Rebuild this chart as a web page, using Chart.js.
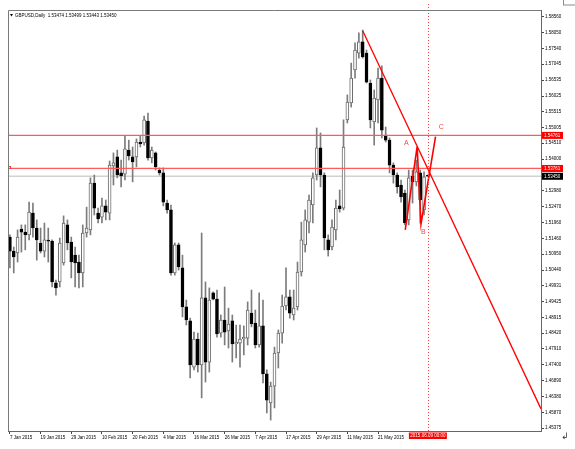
<!DOCTYPE html>
<html lang="en">
<head>
<meta charset="UTF-8">
<title>GBPUSD,Daily</title>
<script src="https://cdn.jsdelivr.net/npm/chart.js"></script>
<style>
    body { margin: 0; background: #fff; }
    .chart-box { width: 575px; height: 449px; position: relative; }
</style>
</head>
<body>
<div class="chart-box"><canvas id="priceChart"></canvas></div>
<script>
// GBPUSD daily candles, 7 Jan 2015 .. 9 Jun 2015
const opens = [
    1.5150, 1.5105, 1.5099, 1.5176, 1.5166, 1.5157, 1.5227, 1.5179, 1.5131, 1.5105,
    1.5140, 1.5137, 1.5003, 1.5006, 1.5067, 1.5189, 1.5134, 1.5092, 1.5070, 1.5035,
    1.5163, 1.5173, 1.5323, 1.5227, 1.5214, 1.5250, 1.5227, 1.5378, 1.5407, 1.5356,
    1.5352, 1.5429, 1.5407, 1.5407, 1.5455, 1.5452, 1.5522, 1.5404, 1.5420, 1.5365,
    1.5356, 1.5259, 1.5237, 1.5035, 1.5125, 1.5051, 1.4926, 1.4881, 1.4733, 1.4823,
    1.4740, 1.4955, 1.4749, 1.4971, 1.4951, 1.4842, 1.4884, 1.4849, 1.4881, 1.4807,
    1.4810, 1.4823, 1.4826, 1.4906, 1.4874, 1.4804, 1.4865, 1.4711, 1.4618, 1.4672,
    1.4778, 1.4842, 1.4929, 1.4958, 1.4900, 1.4926, 1.5038, 1.5125, 1.5198, 1.5253,
    1.5349, 1.5436, 1.5349, 1.5141, 1.5118, 1.5173, 1.5250, 1.5243, 1.5526, 1.5580,
    1.5686, 1.5740, 1.5776, 1.5740, 1.5644, 1.5519, 1.5590, 1.5660, 1.5477, 1.5461,
    1.5381, 1.5349, 1.5317, 1.5291, 1.5205, 1.5346, 1.5327, 1.5356, 1.5237, 1.53474
];
const highs = [
    1.5157, 1.5118, 1.5173, 1.5189, 1.5189, 1.5262, 1.5259, 1.5205, 1.5179, 1.5195,
    1.5179, 1.5141, 1.5012, 1.5147, 1.5218, 1.5205, 1.5150, 1.5118, 1.5092, 1.5189,
    1.5246, 1.5340, 1.5349, 1.5243, 1.5275, 1.5269, 1.5394, 1.5420, 1.5429, 1.5397,
    1.5474, 1.5461, 1.5439, 1.5465, 1.5474, 1.5538, 1.5548, 1.5439, 1.5423, 1.5372,
    1.5372, 1.5269, 1.5253, 1.5131, 1.5131, 1.5092, 1.4948, 1.4890, 1.4845, 1.4842,
    1.5163, 1.5006, 1.4987, 1.4974, 1.4980, 1.4900, 1.4990, 1.4922, 1.4900, 1.4868,
    1.4868, 1.4865, 1.4942, 1.4980, 1.4916, 1.4971, 1.4948, 1.4724, 1.4685, 1.4797,
    1.4852, 1.4964, 1.5051, 1.4980, 1.4980, 1.5070, 1.5198, 1.5237, 1.5285, 1.5356,
    1.5500, 1.5484, 1.5356, 1.5157, 1.5205, 1.5269, 1.5301, 1.5526, 1.5606, 1.5708,
    1.5773, 1.5805, 1.5814, 1.5750, 1.5654, 1.5622, 1.5692, 1.5699, 1.5503, 1.5468,
    1.5388, 1.5356, 1.5333, 1.5301, 1.5365, 1.5365, 1.5397, 1.5365, 1.5359, 1.53499
];
const lows = [
    1.5051, 1.5035, 1.5070, 1.5102, 1.5109, 1.5141, 1.5150, 1.5076, 1.5099, 1.5086,
    1.5070, 1.4990, 1.4964, 1.4990, 1.5060, 1.5109, 1.5019, 1.4990, 1.4987, 1.4990,
    1.5150, 1.5157, 1.5221, 1.5195, 1.5195, 1.5205, 1.5205, 1.5317, 1.5340, 1.5311,
    1.5333, 1.5397, 1.5327, 1.5375, 1.5439, 1.5445, 1.5397, 1.5388, 1.5365, 1.5349,
    1.5250, 1.5227, 1.5028, 1.5028, 1.5044, 1.4894, 1.4868, 1.4698, 1.4724, 1.4717,
    1.4634, 1.4685, 1.4717, 1.4948, 1.4829, 1.4829, 1.4804, 1.4794, 1.4749, 1.4762,
    1.4733, 1.4772, 1.4804, 1.4862, 1.4794, 1.4797, 1.4682, 1.4586, 1.4563, 1.4602,
    1.4730, 1.4810, 1.4916, 1.4890, 1.4884, 1.4916, 1.5025, 1.5102, 1.5163, 1.5195,
    1.5333, 1.5311, 1.5109, 1.5089, 1.5109, 1.5141, 1.5230, 1.5237, 1.5516, 1.5567,
    1.5660, 1.5724, 1.5724, 1.5644, 1.5500, 1.5445, 1.5516, 1.5468, 1.5455, 1.5356,
    1.5323, 1.5291, 1.5262, 1.5189, 1.5189, 1.5259, 1.5314, 1.5195, 1.5221, 1.53443
];
const closes = [
    1.5105, 1.5086, 1.5150, 1.5166, 1.5157, 1.5230, 1.5179, 1.5141, 1.5105, 1.5141,
    1.5137, 1.5006, 1.4987, 1.5131, 1.5195, 1.5131, 1.5070, 1.5067, 1.5035, 1.5163,
    1.5179, 1.5323, 1.5243, 1.5208, 1.5250, 1.5230, 1.5381, 1.5388, 1.5349, 1.5346,
    1.5433, 1.5410, 1.5391, 1.5455, 1.5449, 1.5526, 1.5404, 1.5429, 1.5375, 1.5356,
    1.5262, 1.5237, 1.5035, 1.5125, 1.5054, 1.4926, 1.4884, 1.4740, 1.4823, 1.4740,
    1.4955, 1.4749, 1.4948, 1.4951, 1.4839, 1.4884, 1.4845, 1.4871, 1.4807, 1.4813,
    1.4823, 1.4829, 1.4916, 1.4871, 1.4804, 1.4865, 1.4711, 1.4627, 1.4672, 1.4778,
    1.4842, 1.4929, 1.4958, 1.4906, 1.4922, 1.5038, 1.5141, 1.5205, 1.5269, 1.5340,
    1.5436, 1.5349, 1.5147, 1.5109, 1.5182, 1.5243, 1.5240, 1.5439, 1.5583, 1.5660,
    1.5750, 1.5776, 1.5728, 1.5647, 1.5526, 1.5596, 1.5660, 1.5493, 1.5461, 1.5381,
    1.5349, 1.5311, 1.5279, 1.5195, 1.5340, 1.5327, 1.5359, 1.5269, 1.5343, 1.53450
];

// price axis labels as printed by the terminal
const yTickValues = [
    1.58560, 1.58050, 1.57540, 1.57045, 1.56535, 1.56025, 1.55515, 1.55005, 1.54510, 1.54000,
    1.52980, 1.52470, 1.51960, 1.51460, 1.50950, 1.50440, 1.49931, 1.49425, 1.48915, 1.48420,
    1.47910, 1.47400, 1.46890, 1.46380, 1.45870, 1.45375
];
const yMin = 1.45279, yMax = 1.58784;

// date axis: one label every 8 bars, last one hidden by the cursor box
const dateTickIdx = [0, 8, 16, 24, 32, 40, 48, 56, 64, 72, 80, 88, 96];
const totalBars = 139; // includes empty space to the right (chart shift)

// objects drawn on the chart
const levels = [1.54761, 1.53701];
const bidPrice = 1.53450;
const trendFrom = [92, 1.5812];
const trendTo = [138, 1.4612];
const zigzag = [[103.1, 1.5173], [106.2, 1.5440], [107.2, 1.5192], [111.0, 1.5472]];
const waveLabels = [['A', 103.4, 1.5452], ['B', 107.8, 1.5166], ['C', 112.5, 1.5503]];
const cursorBar = 109;
const cursorText = '2015.06.09 00:00';
const priceBoxes = [[1.54761, '1.54761', '#ff0000'], [1.53701, '1.53761', '#ff0000'], [1.53450, '1.53450', '#000000']];
const headerText = 'GBPUSD,Daily  1.53474 1.53499 1.53443 1.53450';

// build trading-day labels
const months = ['Jan', 'Feb', 'Mar', 'Apr', 'May', 'Jun', 'Jul', 'Aug', 'Sep', 'Oct', 'Nov', 'Dec'];
const dates = [];
const d = new Date(Date.UTC(2015, 0, 7));
while (dates.length < totalBars) {
    const wd = d.getUTCDay();
    if (wd !== 0 && wd !== 6) dates.push(d.getUTCDate() + ' ' + months[d.getUTCMonth()] + ' ' + d.getUTCFullYear());
    d.setUTCDate(d.getUTCDate() + 1);
}

const bull = opens.map((o, i) => closes[i] >= o);
const bodyFill = bull.map(b => b ? '#ffffff' : '#000000');
const bodyEdge = bull.map(b => b ? '#6a6a6a' : '#000000');
const FONT = '"Liberation Sans", Arial, sans-serif';

const overlay = {
    id: 'overlay',
    beforeDatasetsDraw(chart) {
        const { ctx, chartArea: a, scales: { y } } = chart;
        const by = y.getPixelForValue(bidPrice);
        ctx.save();
        ctx.strokeStyle = '#d2d2d2';
        ctx.lineWidth = 1.5;
        ctx.beginPath(); ctx.moveTo(a.left, by); ctx.lineTo(a.right, by); ctx.stroke();
        ctx.restore();
    },
    afterDatasetsDraw(chart) {
        const { ctx, chartArea: a, scales: { x, y } } = chart;
        ctx.save();
        ctx.beginPath(); ctx.rect(a.left, a.top, a.right - a.left, a.bottom - a.top); ctx.clip();

        // horizontal levels
        levels.forEach(p => {
            const py = y.getPixelForValue(p);
            ctx.strokeStyle = '#ff5a5a';
            ctx.lineWidth = 1.2;
            ctx.beginPath(); ctx.moveTo(a.left, py); ctx.lineTo(a.right, py); ctx.stroke();
        });

        // trend line as a ray
        const x1 = x.getPixelForValue(trendFrom[0]), y1 = y.getPixelForValue(trendFrom[1]);
        const x2 = x.getPixelForValue(trendTo[0]), y2 = y.getPixelForValue(trendTo[1]);
        const k = (y2 - y1) / (x2 - x1);
        ctx.strokeStyle = '#ff0000';
        ctx.lineWidth = 1.3;
        ctx.beginPath(); ctx.moveTo(x1, y1); ctx.lineTo(a.right, y1 + k * (a.right - x1)); ctx.stroke();

        // zigzag
        ctx.lineWidth = 1.6;
        ctx.beginPath();
        zigzag.forEach(([i, p], n) => {
            const px = x.getPixelForValue(i), py = y.getPixelForValue(p);
            if (n) ctx.lineTo(px, py); else ctx.moveTo(px, py);
        });
        ctx.stroke();

        ctx.fillStyle = '#f04848';
        ctx.font = '7px ' + FONT;
        ctx.textAlign = 'center';
        ctx.textBaseline = 'middle';
        waveLabels.forEach(([t, i, p]) => ctx.fillText(t, x.getPixelForValue(i), y.getPixelForValue(p)));
        ctx.restore();

        // vertical cursor line
        const xv = Math.round(x.getPixelForValue(cursorBar)) + 0.5;
        ctx.save();
        ctx.strokeStyle = '#ff4040';
        ctx.lineWidth = 1;
        ctx.setLineDash([1, 2]);
        ctx.beginPath(); ctx.moveTo(xv, 4); ctx.lineTo(xv, a.bottom); ctx.stroke();
        ctx.restore();

        // small anchor square on the lower level
        ctx.save();
        ctx.strokeStyle = '#ff4040';
        ctx.lineWidth = 1;
        ctx.strokeRect(a.left + 0.5, Math.round(y.getPixelForValue(levels[1])) - 1.5, 2, 2);
        ctx.restore();
    },
    afterDraw(chart) {
        const { ctx, chartArea: a, scales: { x, y } } = chart;
        ctx.save();
        // frame top / left
        ctx.strokeStyle = '#7a7a7a';
        ctx.lineWidth = 1;
        ctx.beginPath();
        ctx.moveTo(a.left + 0.5, a.bottom); ctx.lineTo(a.left + 0.5, a.top + 0.5); ctx.lineTo(a.right, a.top + 0.5);
        ctx.stroke();

        // price boxes on the axis
        ctx.font = '4.5px ' + FONT;
        ctx.textBaseline = 'middle';
        ctx.textAlign = 'left';
        priceBoxes.forEach(([p, t, c]) => {
            const py = y.getPixelForValue(p);
            ctx.fillStyle = c;
            ctx.fillRect(a.right + 1, py - 3.5, 21, 7);
            ctx.fillStyle = '#ffffff';
            ctx.fillText(t, a.right + 3, py);
        });

        // date box under the cursor
        const xv = x.getPixelForValue(cursorBar);
        ctx.fillStyle = '#ff0000';
        ctx.fillRect(xv - 19, a.bottom + 1.5, 38, 6.5);
        ctx.fillStyle = '#ffffff';
        ctx.textAlign = 'center';
        ctx.fillText(cursorText, xv, a.bottom + 5);

        // header
        ctx.fillStyle = '#000000';
        ctx.textAlign = 'left';
        ctx.fillText(headerText, 15, 15.5);
        ctx.beginPath(); ctx.moveTo(10, 14); ctx.lineTo(13, 14); ctx.lineTo(11.5, 16.5); ctx.closePath(); ctx.fill();

        // window bits
        ctx.strokeStyle = '#8a8a8a';
        ctx.strokeRect(563.5, -1, 13, 6);
        ctx.fillStyle = '#333333';
        ctx.font = '9px "DejaVu Sans"';
        ctx.fillText('\u21B2', 561, 437);
        ctx.restore();
    }
};

new Chart(document.getElementById('priceChart'), {
    type: 'bar',
    data: {
        labels: dates,
        datasets: [
            {
                label: 'body',
                data: opens.map((o, i) => [o, closes[i]]),
                backgroundColor: bodyFill,
                borderColor: bodyEdge,
                borderWidth: 1,
                borderSkipped: false,
                barThickness: 3,
                minBarLength: 1,
                grouped: false,
                order: 1
            },
            {
                label: 'wick',
                data: lows.map((l, i) => [l, highs[i]]),
                backgroundColor: '#7c7c7c',
                barThickness: 1,
                grouped: false,
                order: 2
            }
        ]
    },
    options: {
        responsive: true,
        maintainAspectRatio: false,
        animation: false,
        devicePixelRatio: 1,
        layout: { padding: { left: 8, top: 10, right: 0, bottom: 0 } },
        plugins: { legend: { display: false }, tooltip: { enabled: false } },
        scales: {
            x: {
                offset: true,
                grid: { offset: false, drawOnChartArea: false, drawTicks: true, tickLength: 3, color: '#444' },
                border: { display: true, color: '#666' },
                ticks: {
                    autoSkip: false, maxRotation: 0, minRotation: 0, align: 'start', padding: 1,
                    color: '#000', font: { family: FONT, size: 4.5 }
                },
                afterBuildTicks: s => { s.ticks = s.ticks.filter(t => dateTickIdx.includes(t.value)); },
                afterFit: s => { s.height = 18; }
            },
            y: {
                position: 'right',
                min: yMin,
                max: yMax,
                grid: { drawOnChartArea: false, drawTicks: true, tickLength: 3, color: '#444' },
                border: { display: true, color: '#666' },
                ticks: {
                    autoSkip: false, padding: 1, color: '#000', font: { family: FONT, size: 4.5 },
                    callback: v => v.toFixed(5)
                },
                afterBuildTicks: s => { s.ticks = yTickValues.map(v => ({ value: v })); },
                afterFit: s => { s.width = 34; }
            }
        }
    },
    plugins: [overlay]
});
</script>
</body>
</html>
